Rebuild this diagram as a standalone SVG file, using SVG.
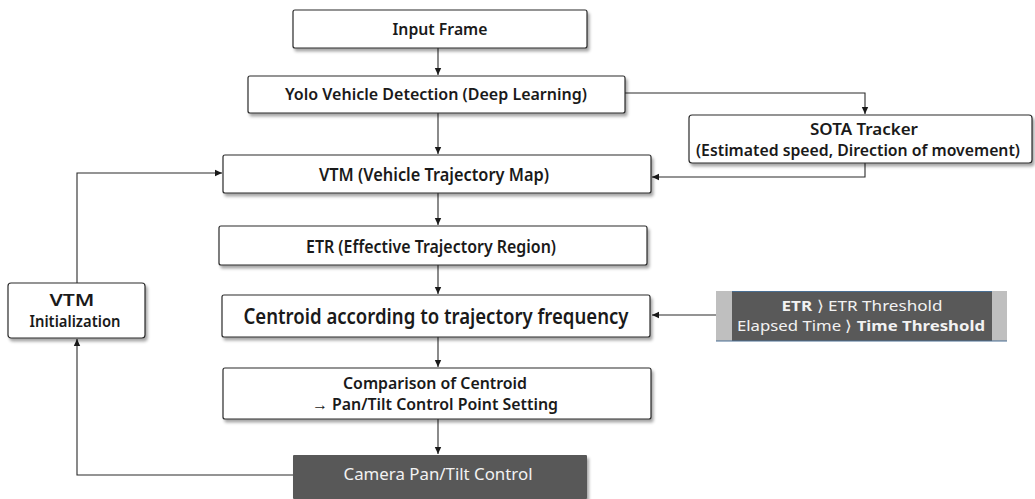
<svg xmlns="http://www.w3.org/2000/svg" width="1035" height="499" viewBox="0 0 1035 499">
<style>
.box{fill:#ffffff;stroke:#2b2b2b;stroke-width:1.2}
.dark{fill:#595959;stroke:none}
.t{font-family:"Noto Sans","Open Sans","Liberation Sans",sans-serif;font-weight:600;fill:#1a1a1a;text-anchor:middle}
.w{font-family:"Noto Sans","Open Sans","Liberation Sans",sans-serif;fill:#f2f2f2;text-anchor:middle}
.c{fill:none;stroke:#2b2b2b;stroke-width:1.1}
</style>
<defs>
<filter id="sh" x="-10%" y="-20%" width="130%" height="160%">
<feDropShadow dx="2" dy="3" stdDeviation="1.6" flood-color="#000" flood-opacity="0.35"/>
</filter>
<marker id="ah" markerWidth="8" markerHeight="8" refX="7" refY="4" orient="auto" markerUnits="userSpaceOnUse">
<path d="M0,0.8 L7,4 L0,7.2 Z" fill="#1a1a1a"/>
</marker>
</defs>
<rect width="1035" height="499" fill="#ffffff"/>

<g id="connectors">
<line class="c" x1="438" y1="48" x2="438" y2="75" marker-end="url(#ah)"/>
<line class="c" x1="438" y1="113" x2="438" y2="154" marker-end="url(#ah)"/>
<polyline class="c" points="625,93 865,93 865,114" marker-end="url(#ah)"/>
<polyline class="c" points="865,163 865,177 652,177" marker-end="url(#ah)"/>
<polyline class="c" points="77,283 77,173 222,173" marker-end="url(#ah)"/>
<line class="c" x1="438" y1="193" x2="438" y2="225" marker-end="url(#ah)"/>
<line class="c" x1="438" y1="265" x2="438" y2="294" marker-end="url(#ah)"/>
<line class="c" x1="716" y1="315" x2="652" y2="315" marker-end="url(#ah)"/>
<line class="c" x1="438" y1="337" x2="438" y2="367" marker-end="url(#ah)"/>
<line class="c" x1="438" y1="419" x2="438" y2="454" marker-end="url(#ah)"/>
<polyline class="c" points="293,475 77,475 77,339" marker-end="url(#ah)"/>
</g>

<g id="input-frame">
<rect class="box" x="293" y="10" width="294" height="38" rx="2" filter="url(#sh)"/>
<text class="t" x="440" y="35" font-size="16.5" textLength="95" lengthAdjust="spacingAndGlyphs">Input Frame</text>
</g>

<g id="yolo">
<rect class="box" x="248" y="76" width="377" height="37" rx="2" filter="url(#sh)"/>
<text class="t" x="436" y="100" font-size="16.5" textLength="302" lengthAdjust="spacingAndGlyphs">Yolo Vehicle Detection (Deep Learning)</text>
</g>

<g id="sota">
<rect class="box" x="689" y="115" width="343" height="48" rx="3" filter="url(#sh)"/>
<text class="t" x="864" y="135" font-size="15.5" textLength="108" lengthAdjust="spacingAndGlyphs">SOTA Tracker</text>
<text class="t" x="858" y="156" font-size="15.5" textLength="324" lengthAdjust="spacingAndGlyphs">(Estimated speed, Direction of movement)</text>
</g>

<g id="vtm">
<rect class="box" x="223" y="155" width="428" height="38" rx="2" filter="url(#sh)"/>
<text class="t" x="434" y="181" font-size="17" textLength="230" lengthAdjust="spacingAndGlyphs">VTM (Vehicle Trajectory Map)</text>
</g>

<g id="etr">
<rect class="box" x="219" y="226" width="428" height="39" rx="2" filter="url(#sh)"/>
<text class="t" x="431" y="253" font-size="17" textLength="250" lengthAdjust="spacingAndGlyphs">ETR (Effective Trajectory Region)</text>
</g>

<g id="centroid">
<rect class="box" x="222" y="295" width="428" height="42" rx="2" filter="url(#sh)"/>
<text class="t" x="436" y="324" font-size="21.5" textLength="385" lengthAdjust="spacingAndGlyphs">Centroid according to trajectory frequency</text>
</g>

<g id="threshold">
<rect x="716" y="291" width="291" height="50" fill="#bfbfbf"/>
<rect class="dark" x="732" y="291" width="260" height="50"/>
<line x1="732" y1="291.5" x2="992" y2="291.5" stroke="#4a6f93" stroke-width="1"/>
<line x1="716" y1="341" x2="1007" y2="341" stroke="#4a6f93" stroke-width="1.2"/>
<text class="w" x="862" y="311" font-size="14.5" textLength="161" lengthAdjust="spacingAndGlyphs"><tspan font-weight="700">ETR</tspan> ⟩ ETR Threshold</text>
<text class="w" x="861" y="331" font-size="14.5" textLength="248" lengthAdjust="spacingAndGlyphs">Elapsed Time ⟩ <tspan font-weight="700">Time Threshold</tspan></text>
</g>

<g id="comparison">
<rect class="box" x="223" y="368" width="428" height="51" rx="2" filter="url(#sh)"/>
<text class="t" x="435" y="389" font-size="16.5" textLength="184" lengthAdjust="spacingAndGlyphs">Comparison of Centroid</text>
<text class="t" x="435" y="410" font-size="16.5" textLength="246" lengthAdjust="spacingAndGlyphs">→ Pan/Tilt  Control Point Setting</text>
</g>

<g id="camera">
<rect class="dark" x="293" y="455" width="294" height="44" rx="1" filter="url(#sh)"/>
<text class="w" x="438" y="480" font-size="17" textLength="189" lengthAdjust="spacingAndGlyphs">Camera Pan/Tilt  Control</text>
</g>

<g id="vtm-init">
<rect class="box" x="8" y="283" width="137" height="55" rx="3" filter="url(#sh)"/>
<text class="t" x="72" y="306" font-size="15.5" textLength="45" lengthAdjust="spacingAndGlyphs">VTM</text>
<text class="t" x="75" y="327" font-size="15.5" textLength="91" lengthAdjust="spacingAndGlyphs">Initialization</text>
</g>
</svg>
